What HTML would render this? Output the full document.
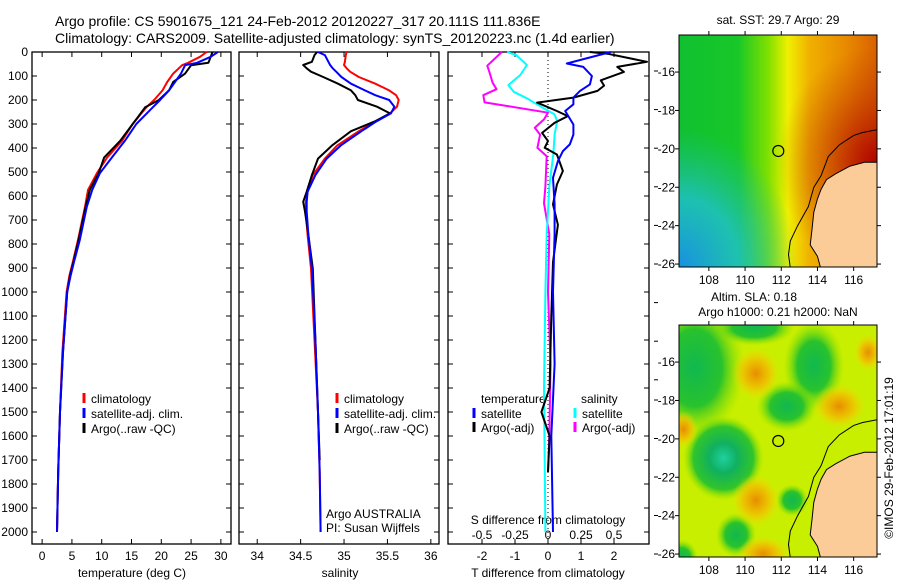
<!DOCTYPE html>
<html><head><meta charset="utf-8"><style>
html,body{margin:0;padding:0;background:#fff}
svg{display:block;font-family:"Liberation Sans",sans-serif}
text{font-size:12px;fill:#000}
</style></head><body>
<svg id="c" width="900" height="580" viewBox="0 0 900 580">
<defs>
<linearGradient id="sstg" x1="0" x2="1" y1="0" y2="0">
<stop offset="0" stop-color="#10c030"/><stop offset="0.3" stop-color="#18c828"/><stop offset="0.45" stop-color="#80e000"/><stop offset="0.55" stop-color="#f0f000"/><stop offset="0.66" stop-color="#f0b000"/><stop offset="0.85" stop-color="#e88800"/><stop offset="1" stop-color="#d86000"/>
</linearGradient>
<radialGradient id="bluec" cx="0" cy="1" r="0.6"><stop offset="0" stop-color="#1890e0"/><stop offset="0.5" stop-color="#20c0d0" stop-opacity="0.8"/><stop offset="1" stop-color="#20c0a0" stop-opacity="0"/></radialGradient>
<radialGradient id="redc" cx="1" cy="0.55" r="0.5"><stop offset="0" stop-color="#b00000"/><stop offset="1" stop-color="#c04000" stop-opacity="0"/></radialGradient>
<radialGradient id="gblob"><stop offset="0" stop-color="#10b850"/><stop offset="0.55" stop-color="#20c030" stop-opacity="0.95"/><stop offset="1" stop-color="#80e000" stop-opacity="0"/></radialGradient>
<radialGradient id="tblob"><stop offset="0" stop-color="#20d0a0"/><stop offset="0.35" stop-color="#10b060"/><stop offset="0.75" stop-color="#20c030" stop-opacity="0.9"/><stop offset="1" stop-color="#80e000" stop-opacity="0"/></radialGradient>
<radialGradient id="oblob"><stop offset="0" stop-color="#e88c00"/><stop offset="0.55" stop-color="#f0c000" stop-opacity="0.85"/><stop offset="1" stop-color="#f0e000" stop-opacity="0"/></radialGradient>
<clipPath id="clipTop"><rect x="679" y="35" width="198" height="232"/></clipPath>
<clipPath id="clipBot"><rect x="679" y="325" width="198" height="232"/></clipPath>
</defs>
</svg>
<script>
// ---------- data ----------
const tDepths = [0,20,45,55,90,125,160,200,230,270,300,370,440,505,575,645,785,870,930,1000,1250,1500,1750,2000];
const tClim   = [27.6,26.5,24.5,23.5,22,21,20.2,18.8,17.5,16.2,15.2,13.4,10.9,9.2,7.7,7.2,6.0,5.2,4.6,4.1,3.4,3.0,2.7,2.5];
const tSat    = [29.5,28.3,26,24,23.3,22.3,21.3,19.8,18.6,17,15.8,13.9,11.7,9.7,8.4,7.5,6.3,5.4,4.8,4.2,3.5,3.0,2.7,2.5];
const tArgo   = [28.6,28.3,27.9,25,24,22,21.3,19.6,17.3,16.1,15.2,13.1,10.4,9.5,8,7.3,6.1,5.3,4.7,4.2,3.5,3.0,2.7,2.5];

const sDepths = [0,13,41,54,68,82,104,132,160,180,200,228,256,290,330,390,444,513,582,624,665,763,902,1200,1500,1750,2000];
const sClim = [35.03,35.02,35.01,35.0,35.03,35.07,35.17,35.36,35.52,35.6,35.63,35.61,35.53,35.36,35.17,34.92,34.78,34.64,34.58,34.56,34.56,34.58,34.62,34.66,34.70,34.72,34.73];
const sSat  = [34.70,34.78,34.82,34.84,34.87,34.91,34.97,35.08,35.24,35.36,35.52,35.58,35.54,35.37,35.2,34.96,34.8,34.67,34.58,34.57,34.57,34.59,34.63,34.67,34.70,34.72,34.73];
const sArgoDepths = [0,13,41,54,68,82,104,132,160,180,200,228,256,290,330,390,444,513,582,624,665,763,902,1200,1500,1700];
const sArgo = [34.69,34.66,34.63,34.53,34.57,34.62,34.76,34.93,35.08,35.13,35.16,35.38,35.53,35.35,35.08,34.86,34.70,34.63,34.57,34.53,34.55,34.59,34.64,34.67,34.70,34.72];

const dtSatDepths = [0,48,62,100,135,162,190,218,246,302,344,385,413,455,524,635,760,1000,1300,1600,2000];
const dtSat = [1.9,0.57,1.07,1.33,1.27,0.97,0.77,0.77,0.52,0.77,0.77,0.66,0.45,0.3,0.15,0.2,0.2,0.15,0.2,0.1,0.15];
const dtArgoDepths = [0,7,41,62,83,118,140,162,190,211,246,267,295,337,371,399,427,496,552,635,720,875,1100,1400,1500,1600,1750];
const dtArgo = [1.27,1.8,3.0,2.1,2.3,1.6,1.7,1.5,0.77,-0.33,0.27,0.6,0.2,-0.18,0,-0.1,0.27,0.45,0.27,0.15,0.3,0.15,0.1,0.05,-0.2,0.05,0.0];
const dsArgoDepths = [0,57,90,128,155,180,210,225,253,281,316,344,399,434,560,630,760,1000,1300,1600,1750];
const dsArgo = [-0.35,-0.46,-0.44,-0.42,-0.39,-0.49,-0.48,-0.31,0,-0.03,-0.1,-0.06,-0.08,-0.01,-0.02,-0.03,0.01,0.0,0.02,0.01,0.0];
const dsSatDepths = [0,13,54,96,138,166,193,232,260,288,344,427,560,760,1000,1400,2000];
const dsSat = [-0.31,-0.24,-0.16,-0.21,-0.3,-0.26,-0.16,-0.04,0.05,0.07,0.05,0.04,0.01,-0.01,-0.02,-0.03,-0.02];

const depthTicks = [0,100,200,300,400,500,600,700,800,900,1000,1100,1200,1300,1400,1500,1600,1700,1800,1900,2000];
const tempTicks = [0,5,10,15,20,25,30];
const salTicks = [34,34.5,35,35.5,36];
const salTickLabels = ["34","34.5","35","35.5","36"];
const dtTicks = [-2,-1,0,1,2];
const dsTicks = [-0.5,-0.25,0,0.25,0.5];
const dsTickLabels = ["-0.5","-0.25","0","0.25","0.5"];
const lonTicks = [108,110,112,114,116];
const latTicks = [-16,-18,-20,-22,-24,-26];
const argoLon = 111.836, argoLat = -20.111;

// ---------- helpers ----------
const svg = document.getElementById('c');
const NS = 'http://www.w3.org/2000/svg';
function mk(tag, attrs, parent){ const e=document.createElementNS(NS,tag); for(const k in attrs) e.setAttribute(k,attrs[k]); (parent||svg).appendChild(e); return e; }
function txt(x,y,s,anchor,parent){ const t=mk('text',{x:x,y:y,'text-anchor':anchor||'start'},parent); t.textContent=s; return t; }

const TOP=52, BOT=544;
const yD = d => TOP + d*0.24;
const xT = v => 32 + (v+1.7)*(199/33.4);
const xS = v => 239 + (v-33.79)*86.8;
const xDT = v => 548 + v*33;
const xDS = v => 548 + v*132;

function line(xs, ds, xf, color, w, name){
  const pts = xs.map((v,i)=> xf(v).toFixed(1)+','+yD(ds[i]).toFixed(1)).join(' ');
  const p = mk('polyline',{points:pts,fill:'none',stroke:color,'stroke-width':w,'stroke-linejoin':'round'});
  
  
  return p;
}

function panel(x0,x1,name){
  const g = mk('g',{});
  
  
  mk('rect',{x:x0,y:TOP,width:x1-x0,height:BOT-TOP,fill:'none',stroke:'#000','stroke-width':1.3},g);
  depthTicks.forEach(d=>{
    mk('line',{x1:x0,x2:x0+5,y1:yD(d),y2:yD(d),stroke:'#000'},g);
    mk('line',{x1:x1-5,x2:x1,y1:yD(d),y2:yD(d),stroke:'#000'},g);
  });
  return g;
}
function xticks(g, ticks, labels, xf, ly){
  ticks.forEach((t,i)=>{
    const x=xf(t);
    mk('line',{x1:x,x2:x,y1:TOP,y2:TOP+5,stroke:'#000'},g);
    mk('line',{x1:x,x2:x,y1:BOT-5,y2:BOT,stroke:'#000'},g);
    const l=txt(x,ly,labels[i],'middle',g);
    
    
  });
}
function legendEntry(g,x,y,color,label){
  const e = mk('g',{},g);
  
  
  mk('line',{x1:x,x2:x,y1:y-10,y2:y,stroke:color,'stroke-width':3},e);
  txt(x+7,y,label,'start',e);
}

// ---------- titles ----------
const t1 = txt(55,26,'Argo profile: CS 5901675_121 24-Feb-2012 20120227_317 20.111S 111.836E');
  t1.style.fontSize='14px';
const t2 = txt(55,43,'Climatology: CARS2009. Satellite-adjusted climatology: synTS_20120223.nc (1.4d earlier)');
  t2.style.fontSize='14px';

// ---------- temperature panel ----------
const gT = panel(32,231,'temperature-panel');
depthTicks.forEach(d=>{ const l=txt(28,yD(d)+4,String(d),'end',gT);   });
xticks(gT,tempTicks,tempTicks.map(String),xT,560);
const xl1=txt(132,577,'temperature (deg C)','middle',gT);  
line(tClim,tDepths,xT,'#f00',2,'temperature-climatology-line');
line(tArgo,tDepths,xT,'#000',2,'temperature-argo-line');
line(tSat,tDepths,xT,'#00f',2,'temperature-satellite-line');
legendEntry(gT,84,403,'#f00','climatology');
legendEntry(gT,84,418,'#00f','satellite-adj. clim.');
legendEntry(gT,84,433,'#000','Argo(..raw -QC)');

// ---------- salinity panel ----------
const gS = panel(239,439,'salinity-panel');
xticks(gS,salTicks,salTickLabels,xS,560);
const xl2=txt(340,577,'salinity','middle',gS);  
line(sClim,sDepths,xS,'#f00',2,'salinity-climatology-line');
line(sArgo,sArgoDepths,xS,'#000',2,'salinity-argo-line');
line(sSat,sDepths,xS,'#00f',2,'salinity-satellite-line');
legendEntry(gS,337,403,'#f00','climatology');
legendEntry(gS,337,418,'#00f','satellite-adj. clim.');
legendEntry(gS,337,433,'#000','Argo(..raw -QC)');
txt(326,518,'Argo AUSTRALIA','start',gS);
txt(326,532,'PI: Susan Wijffels','start',gS);

// ---------- difference panel ----------
const gD = panel(448,649,'difference-panel');
mk('line',{x1:548,x2:548,y1:TOP,y2:BOT,stroke:'#000','stroke-dasharray':'1,3'},gD);
dtTicks.forEach(t=>{ const x=xDT(t); mk('line',{x1:x,x2:x,y1:BOT-5,y2:BOT,stroke:'#000'},gD); const l=txt(x,560,String(t),'middle',gD);   });
dsTicks.forEach((t,i)=>{ const x=xDS(t); mk('line',{x1:x,x2:x,y1:TOP,y2:TOP+5,stroke:'#000'},gD); const l=txt(x,539,dsTickLabels[i],'middle',gD);   });
const xl3=txt(548,524,'S difference from climatology','middle',gD);  
const xl4=txt(548,577,'T difference from climatology','middle',gD);  
line(dsArgo,dsArgoDepths,xDS,'#f0f',2,'salinity-argo-diff-line');
line(dsSat,dsSatDepths,xDS,'#0ff',2,'salinity-satellite-diff-line');
line(dtArgo,dtArgoDepths,xDT,'#000',2,'temperature-argo-diff-line');
line(dtSat,dtSatDepths,xDT,'#00f',2,'temperature-satellite-diff-line');
txt(481,403,'temperature','start',gD);
legendEntry(gD,474,418,'#00f','satellite');
legendEntry(gD,474,432,'#000','Argo(-adj)');
txt(581,403,'salinity','start',gD);
legendEntry(gD,575,418,'#0ff','satellite');
legendEntry(gD,575,432,'#f0f','Argo(-adj)');
for(let k=0;k<9;k++){ mk('line',{x1:654,x2:658,y1:71+k*38.6,y2:71+k*38.6,stroke:'#000'}); }
for(let k=0;k<5;k++){ mk('line',{x1:654,x2:658,y1:400+k*38.5,y2:400+k*38.5,stroke:'#000'}); }

// ---------- maps ----------
const mx = lon => 679 + (lon-106.35)*18.1;
const landPoly = [[117.4,-20.7],[116.6,-20.7],[115.8,-20.9],[115,-21.3],[114.5,-21.6],[114.2,-22.1],[114.0,-22.6],[113.8,-23.3],[113.7,-24.2],[113.6,-25],[114.0,-25.6],[114.2,-26.3],[117.4,-26.3]];
const isoLine = [[117.3,-19.0],[116.5,-19.15],[116,-19.3],[115.2,-19.8],[114.6,-20.4],[114.2,-21.4],[113.8,-22.0],[113.5,-23],[112.9,-24],[112.5,-24.8],[112.4,-25.5],[112.5,-26.2]];

function map(y0,name,clip,fill){
  const my = lat => y0 + (-14.07-lat)*19.2;
  const g = mk('g',{});
  
  
  const inner = mk('g',{'clip-path':'url(#'+clip+')'},g);
  fill(inner,my);
  mk('polygon',{points:landPoly.map(p=>mx(p[0]).toFixed(1)+','+my(p[1]).toFixed(1)).join(' '),fill:'#fccc98',stroke:'#000','stroke-width':1},inner);
  mk('polyline',{points:isoLine.map(p=>mx(p[0]).toFixed(1)+','+my(p[1]).toFixed(1)).join(' '),fill:'none',stroke:'#000','stroke-width':1},inner);
  mk('rect',{x:679,y:y0,width:198,height:232,fill:'none',stroke:'#000','stroke-width':1},g);
  lonTicks.forEach(l=>{ const x=mx(l); mk('line',{x1:x,x2:x,y1:y0-4,y2:y0,stroke:'#000'},g); mk('line',{x1:x,x2:x,y1:y0+232,y2:y0+236,stroke:'#000'},g); txt(x,y0+249,String(l),'middle',g); });
  latTicks.forEach(l=>{ const y=my(l); mk('line',{x1:675,x2:679,y1:y,y2:y,stroke:'#000'},g); mk('line',{x1:877,x2:881,y1:y,y2:y,stroke:'#000'},g); txt(675,y+4,String(l),'end',g); });
  const c = mk('circle',{cx:mx(argoLon),cy:my(argoLat),r:5.5,fill:'none',stroke:'#000','stroke-width':1.2},g);
  
  
  return g;
}
map(35,'sst-map','clipTop',(g,my)=>{
  mk('rect',{x:679,y:35,width:198,height:232,fill:'url(#sstg)'},g);
  mk('rect',{x:679,y:35,width:198,height:232,fill:'url(#bluec)'},g);
  mk('rect',{x:679,y:35,width:198,height:232,fill:'url(#redc)'},g);
});
map(325,'sla-map','clipBot',(g,my)=>{
  mk('rect',{x:679,y:325,width:198,height:232,fill:'#c8ee00'},g);
  const blobs=[[107.2,-16.3,50,70,'gblob'],[110.5,-14.2,40,18,'gblob'],[113.8,-16.2,30,45,'gblob'],[112.3,-18.3,30,25,'gblob'],[108.8,-21,40,42,'tblob'],[112.6,-23.2,16,16,'gblob'],[109.5,-25,20,22,'gblob'],[106.5,-26.2,16,18,'gblob'],[110.6,-16.6,24,26,'oblob'],[110.6,-23.2,24,26,'oblob'],[111,-26,26,18,'oblob'],[115.2,-18.3,26,22,'oblob'],[106.6,-19.5,14,18,'oblob'],[116.8,-15.5,14,18,'oblob']];
  blobs.forEach(b=>mk('ellipse',{cx:mx(b[0]),cy:my(b[1]),rx:b[2],ry:b[3],fill:'url(#'+b[4]+')'},g));
});
const st=txt(778,24,'sat. SST: 29.7 Argo: 29','middle');  
const sl=txt(754,301,'Altim. SLA: 0.18','middle');  
const sh=txt(778,316,'Argo h1000: 0.21 h2000: NaN','middle');  
const cr=txt(0,0,'©IMOS 29-Feb-2012 17:01:19','middle'); cr.setAttribute('transform','translate(893,458) rotate(-90)');
 
</script>
</body></html>
